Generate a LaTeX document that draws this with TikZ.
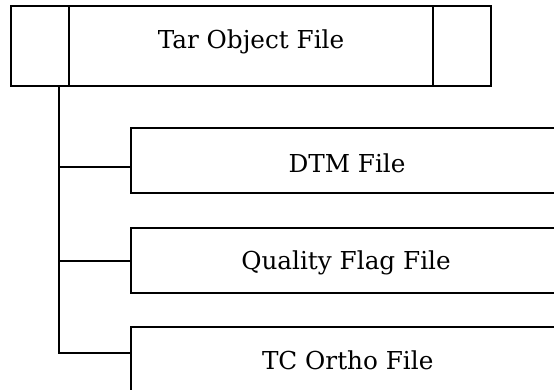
\documentclass[tikz,border=0pt]{standalone}
\usepackage{fontspec}
\setmainfont{DejaVu Serif}
\begin{document}
\begin{tikzpicture}[x=1pt,y=-1pt,
  line width=2pt,
  filebox/.style={draw=black, rectangle, inner sep=0pt},
  lbl/.style={inner sep=0pt, anchor=base, font=\fontsize{24.7}{28}\selectfont},
  conn/.style={draw=black, line width=2pt}]
\clip (0,0) rectangle (554,390);
% top box
\node[filebox, minimum width=480pt, minimum height=80.5pt] (tar) at (250.7,46.25) {};
\draw (69,6) -- (69,86.5);
\draw (433,6) -- (433,86.5);
\node[lbl] (tarlbl) at (251,48.3) {Tar Object File};
% child boxes
\node[filebox, minimum width=430pt, minimum height=65pt] (dtm) at (345.7,161) {};
\node[lbl] (dtmlbl) at (347,172.3) {DTM File};
\node[filebox, minimum width=430pt, minimum height=65pt] (qf) at (345.7,260.5) {};
\node[lbl] (qflbl) at (346,269) {Quality Flag File};
\node[filebox, minimum width=430pt, minimum height=65pt] (tc) at (345.7,359.5) {};
\node[lbl] (tclbl) at (347.7,369.3) {TC Ortho File};
% connectors
\coordinate (trunktop) at (58.7,86.5);
\coordinate (jd) at (58.7,167.3);
\coordinate (jq) at (58.7,261.3);
\coordinate (jt) at (58.7,352.7);
\draw[conn] (trunktop) -- (jt) -- (jt -| tc.west);
\draw[conn] (jd) -- (jd -| dtm.west);
\draw[conn] (jq) -- (jq -| qf.west);
\end{tikzpicture}
\end{document}
